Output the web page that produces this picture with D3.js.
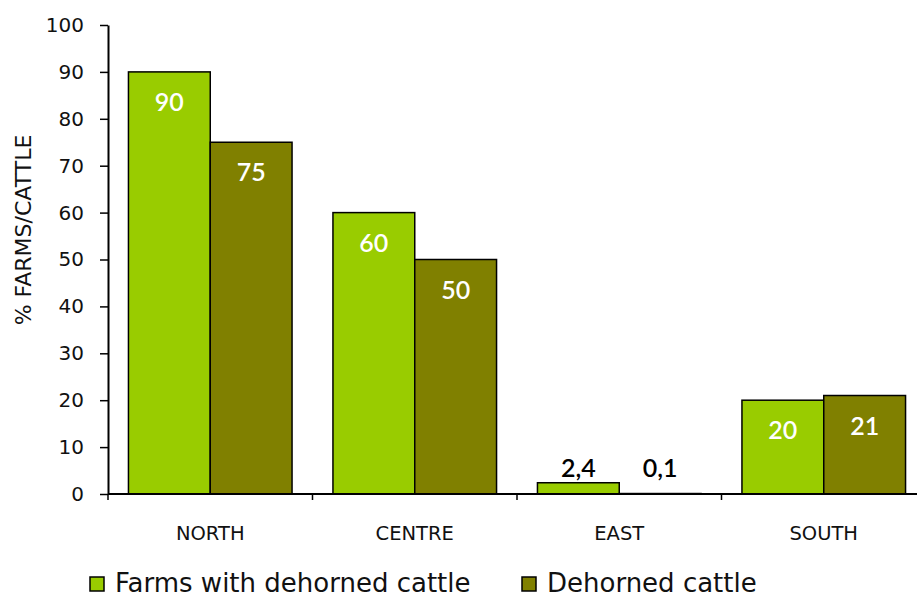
<!DOCTYPE html>
<html>
<head>
<meta charset="utf-8">
<script src="https://cdn.jsdelivr.net/npm/d3@7/dist/d3.min.js"></script>
<style>
  html, body { margin: 0; padding: 0; background: #fff; }
  svg { display: block; }
</style>
</head>
<body>
<div id="chart"></div>
<script>
// Regions along the x axis
const regions = ["NORTH", "CENTRE", "EAST", "SOUTH"];
// Series values (%)
const farmsWithDehorned = [90, 60, 2.4, 20];
const dehornedCattle = [75, 50, 0.1, 21];
// Printed labels for each series
const farmsLabels = ["90", "60", "2,4", "20"];
const cattleLabels = ["75", "50", "0,1", "21"];
// Series names and y ticks
const seriesNames = ["Farms with dehorned cattle", "Dehorned cattle"];
const yTicks = [0, 10, 20, 30, 40, 50, 60, 70, 80, 90, 100];

const W = 917, H = 599;
const colors = ["#99CC00", "#808000"];
const axisFont = "'DejaVu Sans', Verdana, sans-serif";
const labelFont = "Lato, 'Open Sans', sans-serif";

const svg = d3.select("#chart").append("svg").attr("width", W).attr("height", H);

const x0 = 108, yTop = 25, yBottom = 494;
const bandW = 204.5;
const x = d3.scaleBand().domain(regions).range([x0, x0 + bandW * regions.length]).paddingInner(0).paddingOuter(0);
const y = d3.scaleLinear().domain([0, 100]).range([yBottom, yTop]);
const inner = d3.scaleBand().domain([0, 1]).range([0, x.bandwidth()]).paddingInner(0).paddingOuter(0.25);

const series = [farmsWithDehorned, dehornedCattle];
const labels = [farmsLabels, cattleLabels];

// Bars
series.forEach((vals, s) => {
  svg.append("g").selectAll("rect").data(regions).join("rect")
    .attr("x", d => x(d) + inner(s))
    .attr("y", (d, i) => y(vals[i]))
    .attr("width", inner.bandwidth())
    .attr("height", (d, i) => yBottom - y(vals[i]))
    .attr("fill", colors[s])
    .attr("stroke", "#000")
    .attr("stroke-width", 1.5);
});

// Value labels: inside tall bars (white), above short bars (black)
series.forEach((vals, s) => {
  svg.append("g").selectAll("text").data(regions).join("text")
    .attr("x", d => x(d) + inner(s) + inner.bandwidth() / 2)
    .attr("y", (d, i) => vals[i] > 10 ? y(vals[i]) + 39 : Math.min(y(vals[i]) - 6, yBottom - 17))
    .attr("text-anchor", "middle")
    .attr("font-family", labelFont)
    .attr("font-weight", 600)
    .attr("font-size", 25)
    .attr("fill", (d, i) => vals[i] > 10 ? "#fff" : "#000")
    .text((d, i) => labels[s][i]);
});

// Y axis
const yAxis = svg.append("g").attr("transform", `translate(${x0},0)`)
  .call(d3.axisLeft(y).tickValues(yTicks).tickSize(8).tickSizeOuter(0));
yAxis.select(".domain").attr("stroke", "#000").attr("stroke-width", 2);
yAxis.selectAll(".tick line").attr("stroke", "#000").attr("stroke-width", 1.5);
yAxis.selectAll(".tick text")
  .attr("font-family", axisFont).attr("font-size", 20).attr("fill", "#111").attr("x", -24);

// X axis
svg.append("line").attr("x1", x0).attr("x2", W).attr("y1", yBottom).attr("y2", yBottom)
  .attr("stroke", "#000").attr("stroke-width", 2);
svg.append("g").selectAll("line").data(regions).join("line")
  .attr("x1", d => x(d)).attr("x2", d => x(d))
  .attr("y1", yBottom).attr("y2", yBottom + 6)
  .attr("stroke", "#000").attr("stroke-width", 1.5);
svg.append("g").selectAll("text").data(regions).join("text")
  .attr("x", d => x(d) + x.bandwidth() / 2)
  .attr("y", 540)
  .attr("text-anchor", "middle")
  .attr("font-family", axisFont).attr("font-size", 19.5).attr("fill", "#111")
  .text(d => d);

// Y axis title
svg.append("text")
  .attr("transform", `translate(31,230) rotate(-90)`)
  .attr("text-anchor", "middle")
  .attr("font-family", axisFont).attr("font-size", 22).attr("fill", "#111")
  .text("% FARMS/CATTLE");

// Legend
const legendX = [90, 522];
const legend = svg.append("g").selectAll("g").data(seriesNames).join("g")
  .attr("transform", (d, i) => `translate(${legendX[i]},0)`);
legend.append("rect")
  .attr("x", 0).attr("y", 577).attr("width", 14).attr("height", 14)
  .attr("fill", (d, i) => colors[i]).attr("stroke", "#000").attr("stroke-width", 1.5);
legend.append("text")
  .attr("x", 25).attr("y", 592)
  .attr("font-family", axisFont).attr("font-size", 26).attr("fill", "#111")
  .text(d => d);
</script>
</body>
</html>
